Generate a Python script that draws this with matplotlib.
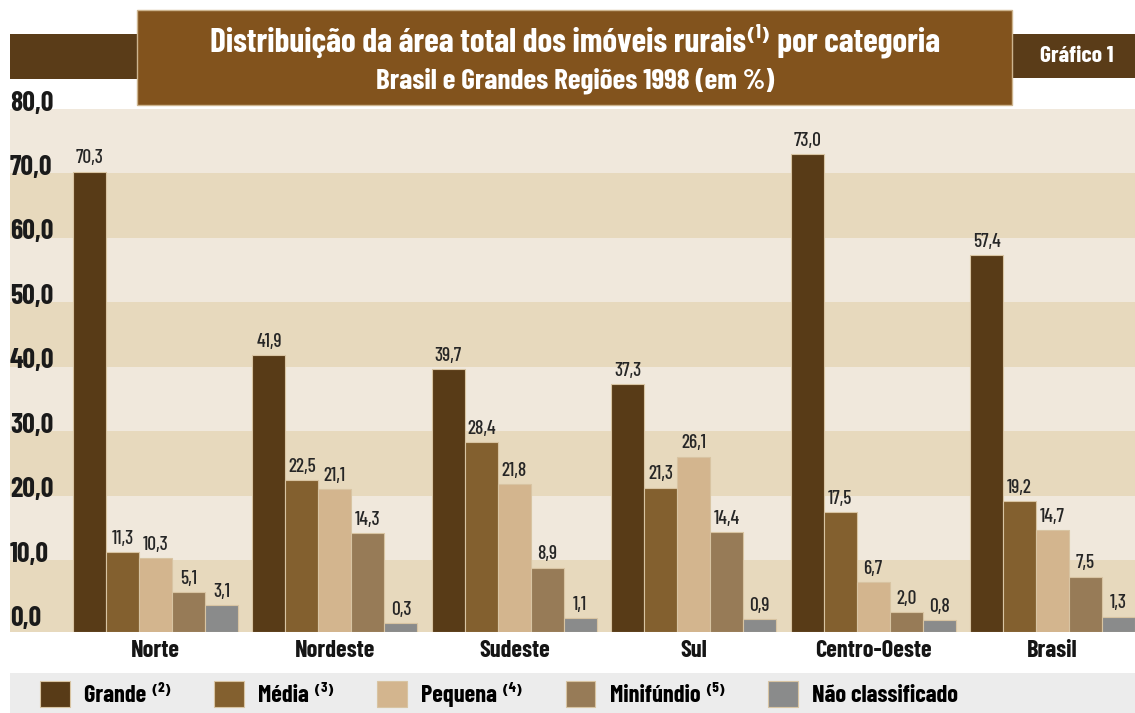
import matplotlib
matplotlib.use("Agg")
import matplotlib.pyplot as plt
from matplotlib.patches import Rectangle, Patch
import matplotlib.transforms as mtransforms
import numpy as np

# ---- data ----
regions = ["Norte", "Nordeste", "Sudeste", "Sul", "Centro-Oeste", "Brasil"]
series_names = ["Grande", "Média", "Pequena", "Minifúndio", "Não classificado"]
series_notes = ["⁽²⁾", "⁽³⁾", "⁽⁴⁾", "⁽⁵⁾", ""]
grande = [70.3, 41.9, 39.7, 37.3, 73.0, 57.4]
media = [11.3, 22.5, 28.4, 21.3, 17.5, 19.2]
pequena = [10.3, 21.1, 21.8, 26.1, 6.7, 14.7]
minifundio = [5.1, 14.3, 8.9, 14.4, 2.0, 7.5]
nao_classificado = [3.1, 0.3, 1.1, 0.9, 0.8, 1.3]
ytick_values = [0, 10, 20, 30, 40, 50, 60, 70, 80]
ytick_labels = ["0,0", "10,0", "20,0", "30,0", "40,0", "50,0", "60,0", "70,0", "80,0"]
title_line1 = "Distribuição da área total dos imóveis rurais⁽¹⁾ por categoria"
title_line2 = "Brasil e Grandes Regiões 1998 (em %)"
badge = "Gráfico 1"

series = [grande, media, pequena, minifundio, nao_classificado]
colors = ["#583b17", "#83602f", "#d3b58e", "#977b57", "#8a8b8b"]

FONT = ["Barlow Condensed", "DejaVu Sans"]
plt.rcParams["font.family"] = FONT

W, H = 1135, 713
fig = plt.figure(figsize=(W / 100, H / 100), dpi=100)
fig.patch.set_facecolor("white")

Y0 = -1.1
ax = fig.add_axes([10 / W, (H - 632) / H, 1125 / W, (632 - 109) / H])
ax.set_ylim(Y0, 80)
n = len(regions)
bw = 33 / 179.4
x = np.arange(n)
ax.set_xlim((10 - 155.5) / 179.4, (1135 - 155.5) / 179.4)

band_light = "#f0e8dc"
band_dark = "#e7d9bd"
for i in range(8):
    lo = Y0 if i == 0 else i * 10
    ax.axhspan(lo, (i + 1) * 10, color=band_dark if i % 2 == 0 else band_light, lw=0, zorder=0)

for j, (vals, col) in enumerate(zip(series, colors)):
    xs = x + (j - 2) * bw
    v = np.array(vals)
    ax.bar(xs, v - Y0, bottom=Y0, width=bw, color=col, edgecolor="#d8c4a2",
           linewidth=0.8, zorder=2)
    for xx, vv in zip(xs, vals):
        ax.annotate(f"{vv:.1f}".replace(".", ","), (xx, vv), xytext=(0, 3),
                    textcoords="offset points", ha="center", va="bottom",
                    fontsize=14, fontweight="medium", color="#262626", zorder=3)

for s in ax.spines.values():
    s.set_visible(False)
ax.set_yticks([])
ax.set_xticks(x)
ax.set_xticklabels(regions, fontsize=17.5, fontweight="bold", color="#151515")
ax.tick_params(axis="x", length=0, pad=6)

trans = mtransforms.blended_transform_factory(ax.transAxes, ax.transData)
off = mtransforms.ScaledTranslation(0, 6 / 100, fig.dpi_scale_trans)
for v, lab in zip(ytick_values, ytick_labels):
    ax.text(0.0, v, lab, transform=trans + off, ha="left", va="center",
            fontsize=20, fontweight="bold", color="#1a1a1a", clip_on=False)

# header
fig.patches.append(Rectangle((10 / W, (H - 79) / H), 127 / W, 45 / H, transform=fig.transFigure,
                             color="#5a3c18", lw=0))
fig.patches.append(Rectangle((1012 / W, (H - 78) / H), 123 / W, 44 / H, transform=fig.transFigure,
                             color="#5a3c18", lw=0))
fig.patches.append(Rectangle((137 / W, (H - 105) / H), 875 / W, 95 / H, transform=fig.transFigure,
                             facecolor="#82531d", edgecolor="#cdb48e", lw=1))
fig.text(575 / W, (H - 41) / H, title_line1, ha="center", va="center", color="white",
         fontsize=24, fontweight="bold")
fig.text(575 / W, (H - 81) / H, title_line2, ha="center", va="center", color="white",
         fontsize=21, fontweight="bold")
fig.text(1077 / W, (H - 56) / H, badge, ha="center", va="center", color="white",
         fontsize=17, fontweight="bold")

# legend strip
fig.patches.append(Rectangle((10 / W, 0), 1125 / W, 40 / H, transform=fig.transFigure,
                             color="#ececec", lw=0, zorder=0))
handles = [Patch(facecolor=c, edgecolor="#d8c4a2", lw=0.8) for c in colors]
labels = [f"{nm} {nt}" if nt else nm for nm, nt in zip(series_names, series_notes)]
leg = fig.legend(handles, labels, loc="center left", bbox_to_anchor=(40 / W, 19 / H),
                 ncol=5, frameon=False, fontsize=17.5, handlelength=1.23, handleheight=1.32,
                 handletextpad=0.58, columnspacing=1.75, borderaxespad=0, borderpad=0)
for t in leg.get_texts():
    t.set_fontweight("bold")

fig.savefig("out.png", dpi=100)
